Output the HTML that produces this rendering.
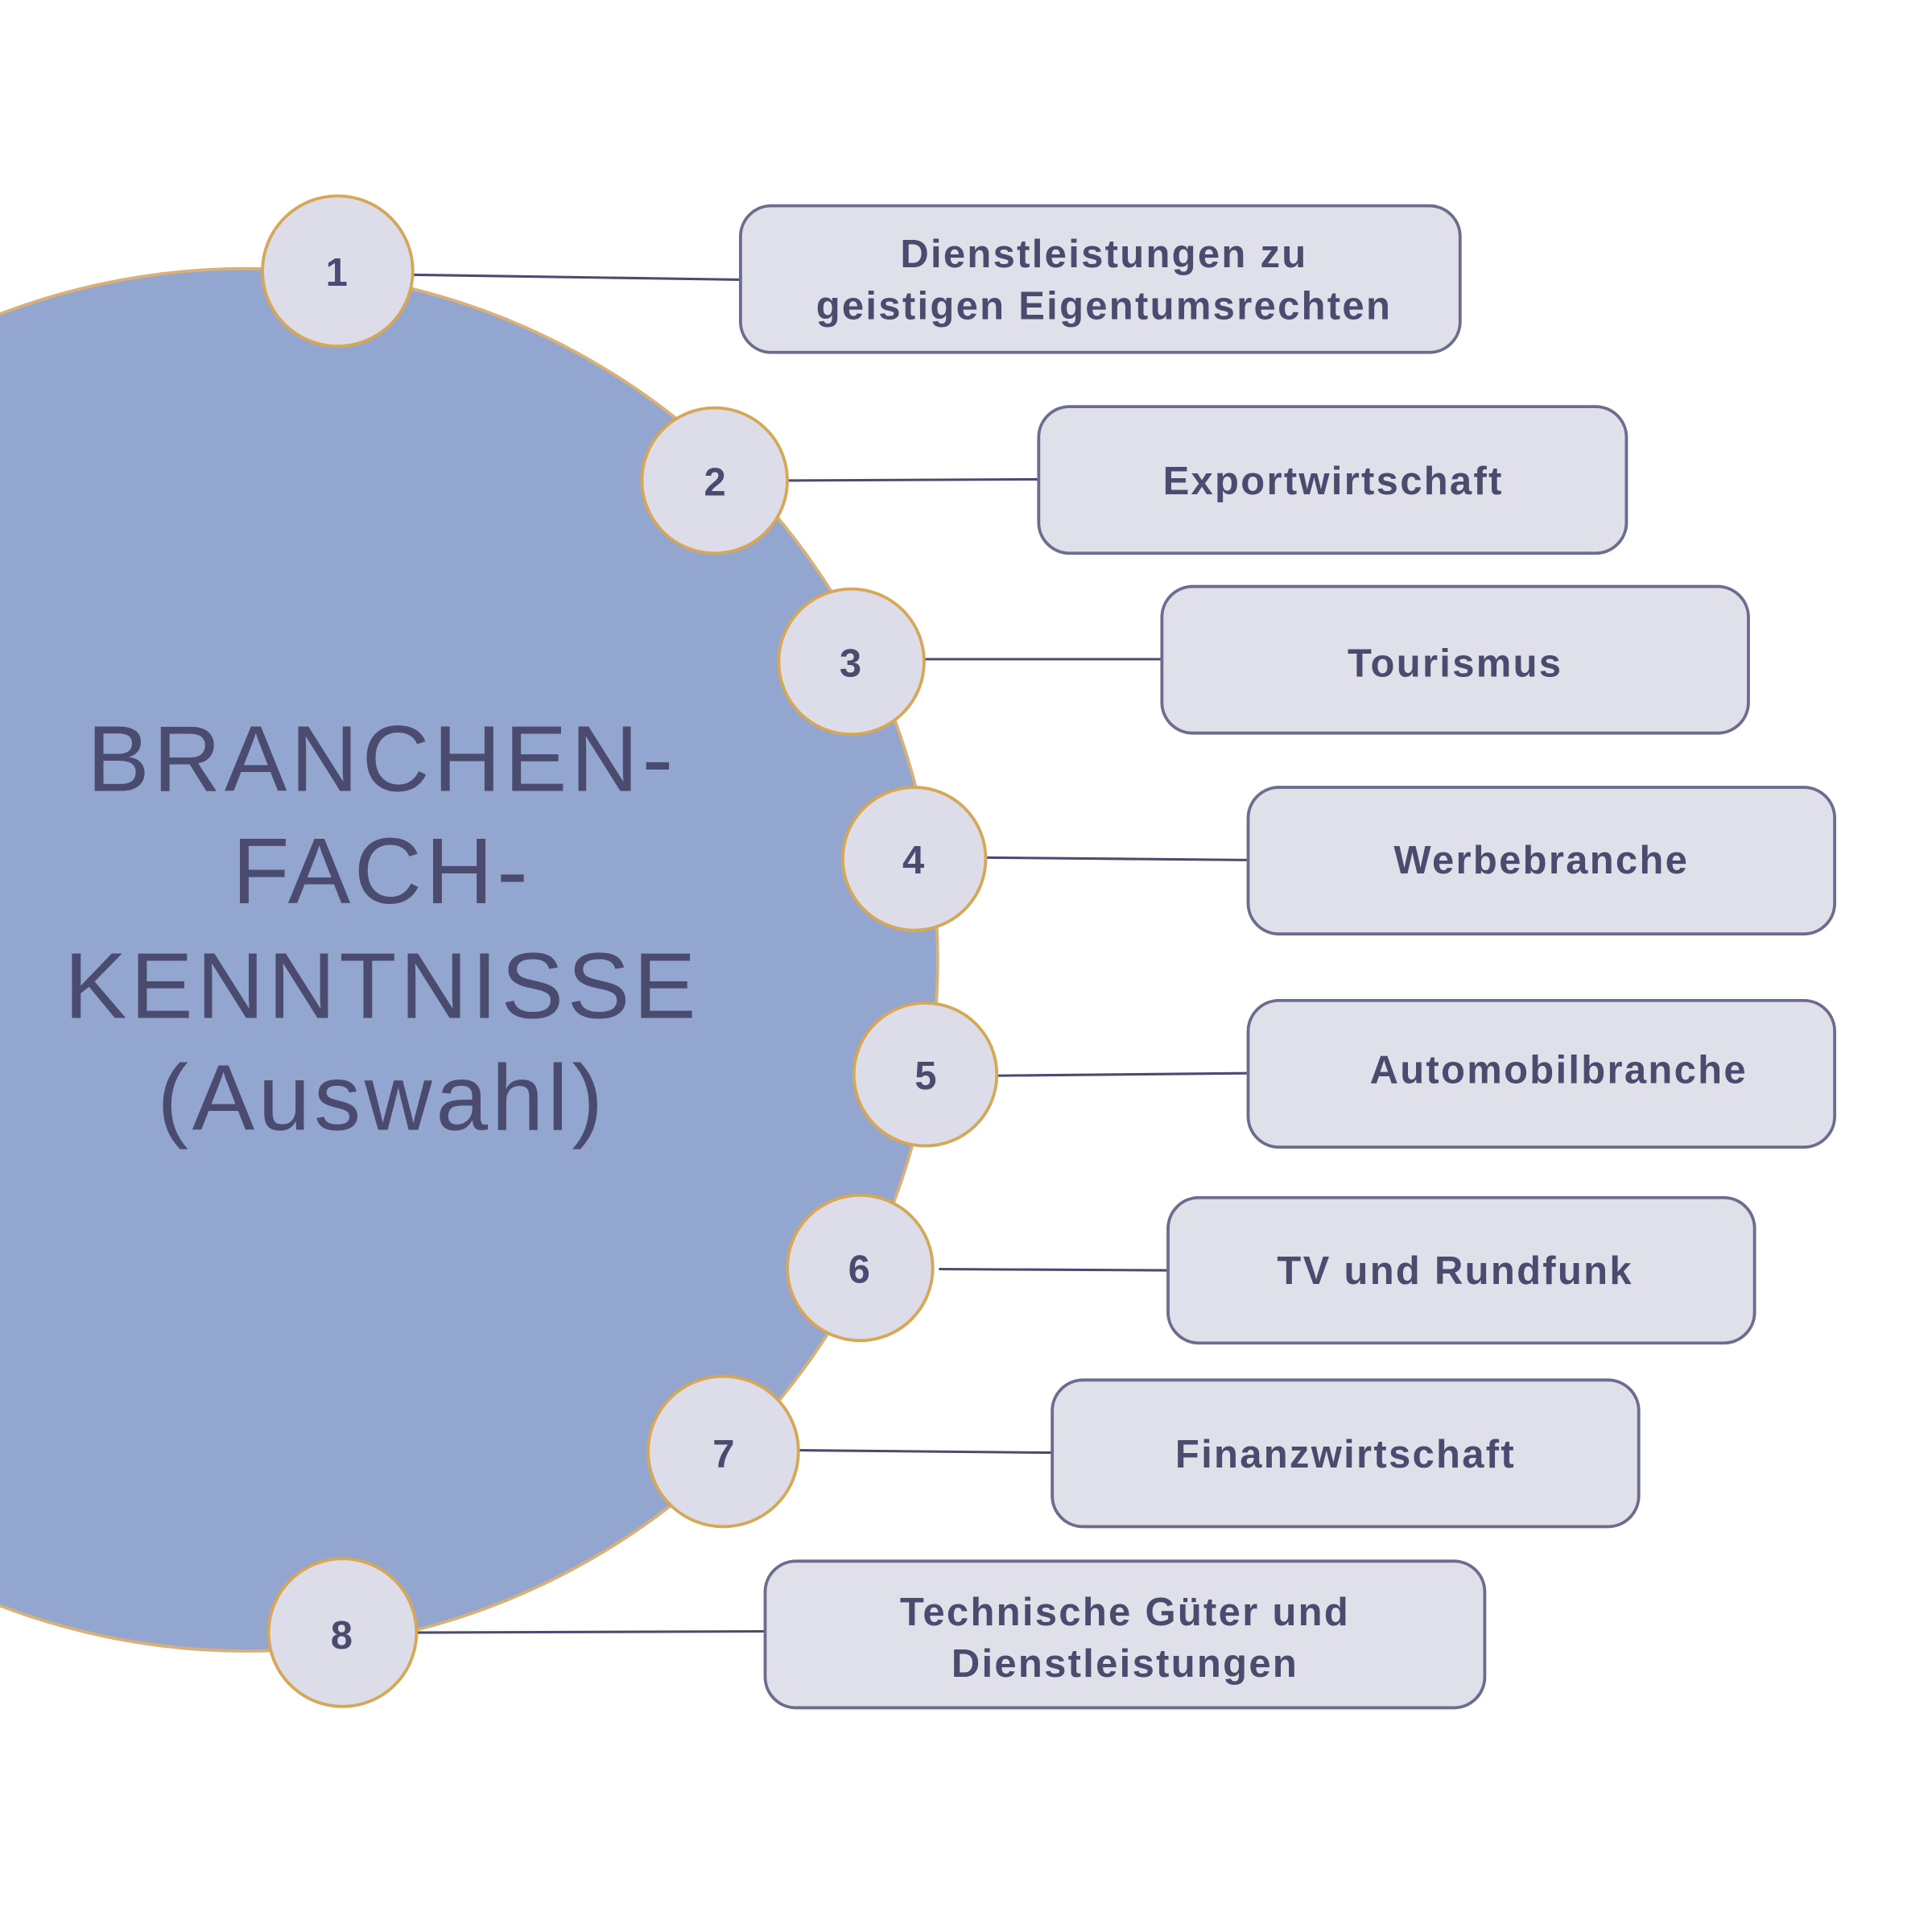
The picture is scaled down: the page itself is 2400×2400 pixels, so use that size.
<!DOCTYPE html>
<html><head><meta charset="utf-8"><style>html,body{margin:0;padding:0;background:#fff;}svg{display:block}</style></head>
<body>
<svg width="2400" height="2400" viewBox="0 0 1568 1568" xmlns="http://www.w3.org/2000/svg">
<rect width="1568" height="1568" fill="#fff"/>
<circle cx="200" cy="779" r="561" fill="#93a6cf" stroke="#d9b078" stroke-width="2.5"/>
<g stroke="#4a4b6e" stroke-width="2">
<line x1="334" y1="223" x2="601" y2="227"/>
<line x1="638" y1="390" x2="843" y2="389"/>
<line x1="750" y1="535" x2="943" y2="535"/>
<line x1="800" y1="696" x2="1013" y2="698"/>
<line x1="809" y1="873" x2="1013" y2="871"/>
<line x1="762" y1="1030" x2="948" y2="1031"/>
<line x1="646" y1="1177" x2="854" y2="1179"/>
<line x1="337" y1="1325" x2="621" y2="1324"/>
</g>
<g fill="#e0e0ea" stroke="#6c6d8e" stroke-width="2.5">
<rect x="601" y="167" width="584" height="119" rx="25"/>
<rect x="843" y="330" width="477" height="119" rx="25"/>
<rect x="943" y="476" width="476" height="119" rx="25"/>
<rect x="1013" y="639" width="476" height="119" rx="25"/>
<rect x="1013" y="812" width="476" height="119" rx="25"/>
<rect x="948" y="972" width="476" height="118" rx="25"/>
<rect x="854" y="1120" width="476" height="119" rx="25"/>
<rect x="621" y="1267" width="584" height="119" rx="25"/>
</g>
<g fill="#dcdde8" stroke="#d6a757" stroke-width="2.5">
<circle cx="274" cy="220" r="61"/>
<circle cx="580" cy="390" r="59"/>
<circle cx="691" cy="537" r="59"/>
<circle cx="742" cy="697" r="58"/>
<circle cx="751" cy="872" r="58"/>
<circle cx="698" cy="1029" r="59"/>
<circle cx="587" cy="1178" r="61"/>
<circle cx="278" cy="1325" r="60"/>
</g>
<g font-family="Liberation Sans, sans-serif" font-weight="bold" fill="#4a4b6e" text-anchor="middle" font-size="32" letter-spacing="1.5">
<text x="274" y="232">1</text>
<text x="581" y="402">2</text>
<text x="691" y="549">3</text>
<text x="742" y="709">4</text>
<text x="752" y="884">5</text>
<text x="698" y="1041">6</text>
<text x="588" y="1191">7</text>
<text x="278" y="1338">8</text>
<text x="896" y="217">Dienstleistungen zu</text>
<text x="896" y="259">geistigen Eigentumsrechten</text>
<text x="1082" y="401">Exportwirtschaft</text>
<text x="1181" y="549">Tourismus</text>
<text x="1251" y="709">Werbebranche</text>
<text x="1265" y="879">Automobilbranche</text>
<text x="1181" y="1042">TV und Rundfunk</text>
<text x="1092" y="1191">Finanzwirtschaft</text>
<text x="913" y="1319">Technische Güter und</text>
<text x="913" y="1361">Dienstleistungen</text>
</g>
<g font-family="Liberation Sans, sans-serif" fill="#4a4b6e" text-anchor="middle" font-size="76" letter-spacing="3">
<text x="310" y="642">BRANCHEN-</text>
<text x="310" y="733">FACH-</text>
<text x="310" y="826">KENNTNISSE</text>
<text x="310" y="917">(Auswahl)</text>
</g>
</svg>
</body></html>
